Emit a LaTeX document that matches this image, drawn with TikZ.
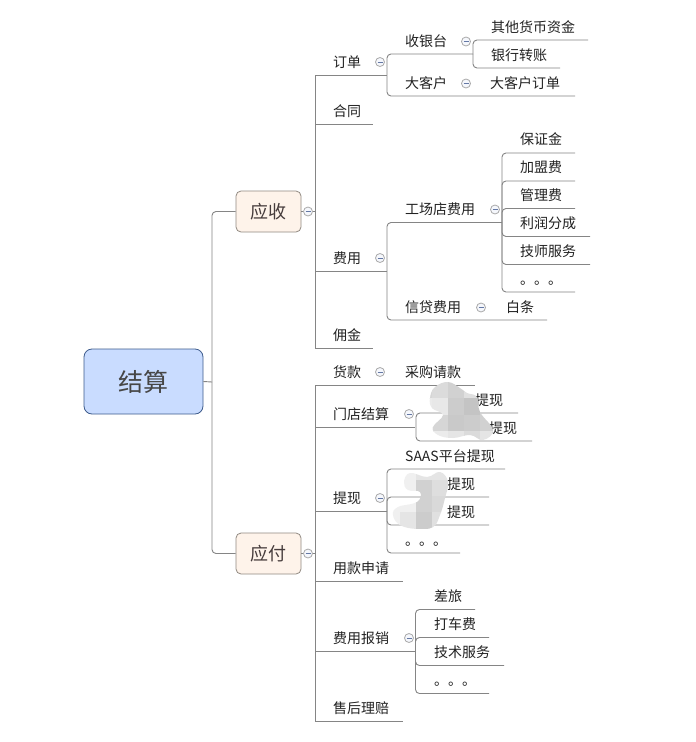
\documentclass[tikz,border=0pt]{standalone}
\usepackage{fontspec}
\setmainfont{Noto Sans CJK SC}
\definecolor{linegray}{HTML}{858585}
\definecolor{txt}{HTML}{222222}
\definecolor{rootdraw}{RGB}{62,92,140}
\definecolor{rootfill}{RGB}{201,220,255}
\definecolor{roottext}{RGB}{70,70,70}
\definecolor{maindraw}{RGB}{145,138,130}
\definecolor{mainfill}{RGB}{254,243,234}
\definecolor{maintext}{RGB}{70,60,60}
\definecolor{colldraw}{RGB}{170,170,170}
\definecolor{collfill}{RGB}{245,247,252}
\definecolor{collbar}{RGB}{100,120,165}
\tikzset{
  lbl/.style={anchor=west,inner sep=0pt,yshift=-1.5pt,text=txt,font=\fontsize{14}{14}\selectfont,text height=11pt,text depth=3pt},
  conn/.style={draw=linegray,line width=0.9pt,rounded corners=4pt},
  connsq/.style={draw=linegray,line width=0.9pt},
  rootbox/.style={draw=rootdraw,fill=rootfill,rounded corners=8pt,line width=0.8pt,text=roottext,font=\fontsize{25}{25}\selectfont,inner sep=0pt},
  mainbox/.style={draw=maindraw,fill=mainfill,rounded corners=5pt,line width=0.8pt,text=maintext,font=\fontsize{18}{18}\selectfont,inner sep=0pt},
  coll/.style={circle,draw=colldraw,fill=collfill,line width=0.8pt,minimum size=9pt,inner sep=0pt,
    path picture={\draw[collbar,line width=0.8pt] ([xshift=-2.5pt]path picture bounding box.center) -- ([xshift=2.5pt]path picture bounding box.center);}}
}
% id, text, text x, text y, connector style, junction, line y, line end x
\newcommand{\topic}[8]{%
  \node[lbl] (#1) at (#3,#4) {#2};
  \coordinate (#1-e) at (#8,#7);
  \draw[#5] (#6) |- (#1-e);
}
\begin{document}
\begin{tikzpicture}[x=1pt,y=-1pt]
\useasboundingbox (0,0) rectangle (696,742);
\fill[white] (0,0) rectangle (696,742);

\node[rootbox,minimum width=119pt,minimum height=65pt] (root) at (143.5,381.5) {\raisebox{-1.5pt}{结算}};
\node[mainbox,minimum width=65pt,minimum height=41pt] (ys) at (268.5,211.5) {\raisebox{-0.5pt}{应收}};
\node[mainbox,minimum width=65pt,minimum height=41pt] (yf) at (268.5,553.5) {\raisebox{-0.5pt}{应付}};

\coordinate (rj) at (212,382);
\draw[connsq] (root.east) -- (rj);
\draw[conn] (rj) |- (ys.west);
\draw[conn] (rj) |- (yf.west);

% junctions
\coordinate (ysj) at (315,211.5);
\coordinate (yfj) at (315,553.5);
\node[coll] (cys) at (308,211.5) {};
\node[coll] (cyf) at (308,553.5) {};
\draw[connsq] (ys.east) -- (cys);
\draw[connsq] (cys) -- (ysj);
\draw[connsq] (yf.east) -- (cyf);
\draw[connsq] (cyf) -- (yfj);

% receivable
\topic{dd}{订单}{333}{62}{connsq}{ysj}{75.5}{387}
\topic{ht}{合同}{333}{111}{connsq}{ysj}{124}{373}
\topic{fy}{费用}{333}{258}{connsq}{ysj}{271}{387}
\topic{yj}{佣金}{333}{335}{connsq}{ysj}{348}{373}

\coordinate (ddj) at (387,75.5);
\topic{syt}{收银台}{405}{41}{conn}{ddj}{54}{473}
\topic{dkh}{大客户}{405}{83}{conn}{ddj}{96}{575}
\node[lbl] (dkhdd) at (490,83) {大客户订单};
\coordinate (sytj) at (473,54);
\topic{qt}{其他货币资金}{491}{27}{conn}{sytj}{40}{588}
\topic{yh}{银行转账}{491}{55}{conn}{sytj}{68}{560}

\coordinate (fyj) at (387,271);
\topic{gc}{工场店费用}{405}{209}{conn}{fyj}{222.5}{502}
\topic{xd}{信贷费用}{405}{307}{conn}{fyj}{320}{547}
\node[lbl] (bt) at (506,307) {白条};
\coordinate (gcj) at (502,222.5);
\topic{bz}{保证金}{520}{139}{conn}{gcj}{153}{575}
\topic{jm}{加盟费}{520}{167}{conn}{gcj}{181}{575}
\topic{gl}{管理费}{520}{195}{conn}{gcj}{208.5}{575}
\topic{lr}{利润分成}{520}{223}{conn}{gcj}{236.5}{590}
\topic{js}{技师服务}{520}{251}{conn}{gcj}{264.5}{590}
\topic{d1}{。。。}{520}{279}{conn}{gcj}{292}{575}

% payable
\topic{hk}{货款}{333}{372}{connsq}{yfj}{385}{475}
\topic{md}{门店结算}{333}{414}{connsq}{yfj}{427}{415}
\topic{tx}{提现}{333}{498}{connsq}{yfj}{511}{387}
\topic{yk}{用款申请}{333}{568}{connsq}{yfj}{581.5}{403}
\topic{bx}{费用报销}{333}{638}{connsq}{yfj}{651}{415}
\topic{sh}{售后理赔}{333}{708}{connsq}{yfj}{721}{403}
\node[lbl] (cg) at (405,372) {采购请款};

\coordinate (mdj) at (416,427);
\topic{m1}{提现}{475}{400}{conn}{mdj}{413}{518}
\topic{m2}{提现}{489}{428}{conn}{mdj}{441}{532}

\coordinate (txj) at (387,511);
\topic{saas}{SAAS平台提现}{405}{456}{conn}{txj}{469}{505}
\topic{t2}{提现}{447}{484}{conn}{txj}{497}{489}
\topic{t3}{提现}{447}{512}{conn}{txj}{525}{489}
\topic{d2}{。。。}{405}{540}{conn}{txj}{553}{460}

\coordinate (bxj) at (415.5,651);
\topic{cl}{差旅}{434}{596}{conn}{bxj}{609.5}{475}
\topic{dc}{打车费}{434}{624}{conn}{bxj}{637.5}{489}
\topic{jf}{技术服务}{434}{652}{conn}{bxj}{665.5}{504}
\topic{d3}{。。。}{434}{680}{conn}{bxj}{693.5}{489}

% collapse markers
\node[coll] (c1) at (380,62) {};
\node[coll] (c2) at (466,41.5) {};
\node[coll] (c3) at (466,83.5) {};
\node[coll] (c4) at (380,258) {};
\node[coll] (c5) at (495,209.5) {};
\node[coll] (c6) at (481,307.5) {};
\node[coll] (c7) at (380,372) {};
\node[coll] (c8) at (409,414) {};
\node[coll] (c9) at (380,498) {};
\node[coll] (c10) at (409,638) {};

% blurred patches
\begin{scope}
\clip plot[smooth cycle,tension=.7] coordinates {(430,398)(435,387)(448,382)(460,388)(467,393)(477,397)(480,412)(493,430)(483,440)(470,435)(453,438)(438,435)(433,427)(443,415)(432,408)};
\foreach \xx/\yy/\gg in {
 416/382/16,432/382/14,448/382/18,464/382/12,480/382/10,
 416/398/8,432/398/9,448/398/20,464/398/23,480/398/18,
 416/415/15,432/415/16,448/415/21,464/415/20,480/415/18,
 416/431/8,432/431/8,448/431/10,464/431/14,480/431/10}
  {\fill[black!\gg] (\xx,\yy) rectangle ++(16.5,17);}
\end{scope}
\begin{scope}
\clip plot[smooth cycle,tension=.7] coordinates {(404,482)(410,473)(427,477)(440,472)(448,482)(445,498)(440,515)(433,527)(417,529)(400,525)(393,515)(398,507)(417,502)(420,492)(408,490)};
\foreach \xx/\yy/\gg in {
 384/464/6,400/464/6,416/464/10,432/464/10,
 384/480/6,400/480/6,416/480/18,432/480/13,
 384/496/6,400/496/6,416/496/18,432/496/15,
 384/512/6,400/512/10,416/512/20,432/512/12}
  {\fill[black!\gg] (\xx,\yy) rectangle ++(16.5,16.5);}
\end{scope}
\end{tikzpicture}
\end{document}
